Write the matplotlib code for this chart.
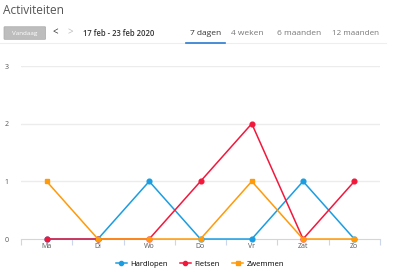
import numpy as np
from matplotlib import pyplot as plt
import matplotlib.patches as mpatches
from matplotlib.lines import Line2D

plt.rcParams['font.family'] = ['Open Sans', 'DejaVu Sans']

days = ['Ma', 'Di', 'Wo', 'Do', 'Vr', 'Zat', 'Zo']
hardlopen = [0, 0, 1, 0, 0, 1, 0]
fietsen = [0, 0, 0, 1, 2, 0, 1]
zwemmen = [1, 0, 0, 0, 1, 0, 0]
yticks = [0, 1, 2, 3]

series = [
	('Hardlopen', hardlopen, '#1b9de2', 'o'),
	('Fietsen', fietsen, '#f2183c', 'o'),
	('Zwemmen', zwemmen, '#ff9a0a', 's'),
]

fig = plt.figure(figsize=(4, 2.73), dpi=100)
ax = fig.add_axes([0.0525, 0.1245, 0.8975, 0.6337])

n = np.arange(len(days))
for name, vals, col, mk in series:
	ax.plot(n, vals, color=col, lw=1.1, marker=mk, markersize=3.4,
		clip_on=False, zorder=3, label=name)

ax.set_xlim(-0.5, len(days) - 0.5)
ax.set_ylim(0, 3)
ax.set_yticks(yticks)
ax.set_yticklabels([str(v) for v in yticks], fontsize=5, color='#555555')
ax.set_xticks(n)
ax.set_xticklabels(days, fontsize=5, color='#555555')
ax.tick_params(axis='y', length=0, pad=9)
ax.tick_params(axis='x', length=0, pad=3)
# tick marks between categories
ax.set_xticks(np.arange(len(days) + 1) - 0.5, minor=True)
ax.tick_params(axis='x', which='minor', length=4, color='#ccd6eb', width=0.8)
for v in yticks[1:]:
	ax.axhline(v, color='#ececec', lw=1, zorder=1)
for s in ['top', 'right', 'left']:
	ax.spines[s].set_visible(False)
ax.spines['bottom'].set_color('#ccd6eb')
ax.spines['bottom'].set_linewidth(0.8)

handles = [Line2D([0], [0], color=c, marker=m, markersize=3, lw=1.1) for _, _, c, m in series]
fig.legend(handles, [s[0] for s in series], loc='center', bbox_to_anchor=(0.5, 0.033),
	ncol=3, frameon=False, fontsize=5.5, handlelength=1.4, handletextpad=0.5, columnspacing=1.6)

# header
fig.text(0.008, 0.985, 'Activiteiten', fontsize=8.6, color='#555555', va='top', ha='left')
fig.patches.append(mpatches.FancyBboxPatch((0.012, 0.858), 0.1, 0.042,
	boxstyle='round,pad=0.002', transform=fig.transFigure, facecolor='#bdbdbd',
	edgecolor='#aaaaaa', lw=0.5))
fig.text(0.062, 0.879, 'Vandaag', fontsize=4.5, color='white', ha='center', va='center')
fig.text(0.138, 0.879, '<', fontsize=7, color='#333333', ha='center', va='center')
fig.text(0.175, 0.879, '>', fontsize=7, color='#bbbbbb', ha='center', va='center')
fig.text(0.207, 0.879, '17 feb - 23 feb 2020', fontsize=5.5, color='#333333', ha='left', va='center', fontweight='semibold')
fig.text(0.515, 0.879, '7 dagen', fontsize=6, color='#333333', ha='center', va='center')
fig.text(0.618, 0.879, '4 weken', fontsize=6, color='#777777', ha='center', va='center')
fig.text(0.748, 0.879, '6 maanden', fontsize=6, color='#777777', ha='center', va='center')
fig.text(0.889, 0.879, '12 maanden', fontsize=5.8, color='#777777', ha='center', va='center')
fig.add_artist(Line2D([0.0, 0.965], [0.843, 0.843], color='#eeeeee', lw=0.8, transform=fig.transFigure))
fig.add_artist(Line2D([0.465, 0.563], [0.843, 0.843], color='#2a7bd0', lw=1.2, transform=fig.transFigure))

plt.savefig('out.png', dpi=100)
